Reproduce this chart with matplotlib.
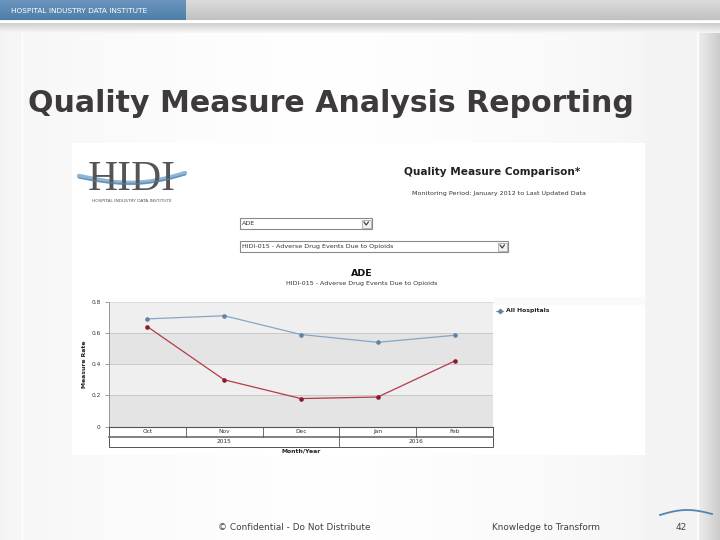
import numpy as np
import matplotlib
matplotlib.use('Agg')
import matplotlib.pyplot as plt
from matplotlib.patches import Rectangle
import matplotlib.transforms as mtransforms

# chart data
months = ['Oct', 'Nov', 'Dec', 'Jan', 'Feb']
years = ['2015', '2016']
months_per_year = [3, 2]
all_hospitals = [0.69, 0.71, 0.59, 0.54, 0.585]
facility = [0.64, 0.30, 0.18, 0.19, 0.42]
y_ticks = [0, 0.2, 0.4, 0.6, 0.8]
y_tick_labels = ['0', '0.2', '0.4', '0.6', '0.8']

W, H = 720, 540
fig = plt.figure(figsize=(7.2, 5.4), dpi=100)


def hgrad(vals):
    # horizontal gray ramp as a 2-row image
    return np.dstack([vals, vals, vals]).repeat(2, axis=0)


def vgrad(r, g, b):
    # vertical ramp as a 2-column image
    return np.dstack([r, g, b]).reshape(-1, 1, 3).repeat(2, axis=1)


# slide background, drawn in pixel coords
bg = fig.add_axes([0, 0, 1, 1])
bg.set_xlim(0, W)
bg.set_ylim(H, 0)
bg.axis('off')

xs = np.linspace(0, 1, W)
shade = 0.955 + 0.045 * np.clip(1 - np.abs(xs - 0.45) / 0.45, 0, 1) ** 0.5
bg.imshow(hgrad(shade[None, :]), extent=[0, W, H, 0], aspect='auto', zorder=0)

# right strip
strip = np.linspace(0.93, 0.80, 22)
bg.imshow(hgrad(strip[None, :]), extent=[698, 720, H, 22], aspect='auto', zorder=1)
bg.plot([698, 698], [22, H], color='white', lw=1.2, zorder=2)
bg.plot([22, 22], [22, H], color='white', lw=1.0, zorder=2)

# top header bar
top = np.linspace(0.86, 0.76, 20)
bg.imshow(vgrad(top, top, top), extent=[0, W, 20, 0], aspect='auto', zorder=2)
bg.imshow(vgrad(np.linspace(0.42, 0.30, 20), np.linspace(0.58, 0.50, 20), np.linspace(0.74, 0.66, 20)),
          extent=[0, 186, 20, 0], aspect='auto', zorder=3)
bg.text(11, 11, 'HOSPITAL INDUSTRY DATA INSTITUTE', color='white', fontsize=5.3,
        va='center', ha='left', zorder=4)
bg.plot([0, W], [21.5, 21.5], color='white', lw=1.5, zorder=3)
sh = np.linspace(0.80, 0.965, 10)
bg.imshow(vgrad(sh, sh, sh), extent=[0, W, 33, 23], aspect='auto', zorder=2, alpha=0.9)

# slide title
bg.text(28, 104, 'Quality Measure Analysis Reporting', fontsize=21.6, fontweight='bold',
        color='#3e3a3b', va='center', ha='left', zorder=4)

# screenshot panel
bg.add_patch(Rectangle((72, 143), 573, 312, facecolor='white', edgecolor='none', zorder=3))

# HIDI logo
t = np.linspace(0, 1, 60)
bg.plot(79 + 106 * t, 176 + 10 * np.sin(np.pi * t * 0.9) - 6 * t, color='#6b9cc4',
        lw=3.2, alpha=0.75, zorder=4, solid_capstyle='round')
bg.text(132, 190, 'HIDI', fontsize=30, family='Liberation Serif', color='#555555',
        ha='center', va='baseline', zorder=5)
bg.plot(79 + 106 * t, 178 + 9 * np.sin(np.pi * t * 0.9) - 6 * t, color='#4f84b0',
        lw=1.1, alpha=0.7, zorder=6)
bg.text(132, 201, 'HOSPITAL INDUSTRY DATA INSTITUTE', fontsize=3.2, color='#555555',
        ha='center', va='center', zorder=5)

# header of the report
bg.text(492, 172, 'Quality Measure Comparison*', fontsize=7.6, fontweight='bold',
        color='#222222', ha='center', va='center', zorder=5)
bg.text(499, 194, 'Monitoring Period: January 2012 to Last Updated Data', fontsize=4.6,
        color='#333333', ha='center', va='center', zorder=5)

# dropdowns
for (x0, x1, y0, label) in [(240, 372, 218, 'ADE'),
                            (240, 508, 241, 'HIDI-015 - Adverse Drug Events Due to Opioids')]:
    bg.add_patch(Rectangle((x0, y0), x1 - x0, 11, facecolor='white', edgecolor='#8a8a8a',
                           lw=0.8, zorder=5))
    bg.add_patch(Rectangle((x1 - 10, y0 + 1.5), 8.5, 8, facecolor='#f2f2f2', edgecolor='#9a9a9a',
                           lw=0.5, zorder=6))
    bg.plot([x1 - 8, x1 - 5.8, x1 - 3.6], [y0 + 4, y0 + 7, y0 + 4], color='#333333', lw=0.8, zorder=7)
    bg.text(x0 + 2, y0 + 5.8, label, fontsize=4.6, color='#333333', ha='left', va='center', zorder=6)

# chart titles
bg.text(362, 273, 'ADE', fontsize=6.8, fontweight='bold', color='#111111',
        ha='center', va='center', zorder=5)
bg.text(362, 284, 'HIDI-015 - Adverse Drug Events Due to Opioids', fontsize=4.6,
        color='#333333', ha='center', va='center', zorder=5)
bg.text(85, 364, 'Measure Rate', fontsize=4.4, fontweight='bold', rotation=90,
        color='#222222', ha='center', va='center', zorder=5)
bg.text(301, 451, 'Month/Year', fontsize=4.4, fontweight='bold', color='#222222',
        ha='center', va='center', zorder=5)

# legend
bg.add_patch(Rectangle((494, 297), 151, 8, facecolor='#fafafa', edgecolor='none', zorder=4))
bg.plot([496, 503], [310.5, 310.5], color='#7f9fbf', lw=0.8, zorder=5)
bg.plot([499.5], [310.5], marker='D', ms=2.2, color='#5f84a8', zorder=6)
bg.text(506, 310.5, 'All Hospitals', fontsize=4.4, fontweight='bold', color='#222222',
        ha='left', va='center', zorder=5)

# footer
bg.text(294, 527, '\u00a9 Confidential - Do Not Distribute', fontsize=6.4, color='#404040',
        ha='center', va='center', zorder=5)
bg.text(546, 527, 'Knowledge to Transform', fontsize=6.4, color='#404040',
        ha='center', va='center', zorder=5)
bg.text(681, 527, '42', fontsize=6.4, color='#404040', ha='center', va='center', zorder=5)
t2 = np.linspace(0, 1, 40)
bg.plot(660 + 52 * t2, 515 - 4 * np.sin(np.pi * t2) + 2 * t2 ** 2 - 3 * t2, color='#4f86b4',
        lw=1.3, zorder=5)

# the line chart
left, right, ytop, ybot = 109, 493, 301.7, 426.7
ax = fig.add_axes([left / W, 1 - ybot / H, (right - left) / W, (ybot - ytop) / H])
ax.set_facecolor('#efefef')
ax.set_xlim(-0.5, len(months) - 0.5)
ax.set_ylim(0, 0.8)
ax.axhspan(0, 0.2, color='#e4e4e4', zorder=0, lw=0)
ax.axhspan(0.4, 0.6, color='#e4e4e4', zorder=0, lw=0)
for yv in y_ticks[1:4]:
    ax.axhline(yv, color='#c4c4c4', lw=0.6, zorder=1)

x = np.arange(len(months))
ax.plot(x, all_hospitals, color='#86a6c6', lw=0.9, marker='o', ms=2.3,
        mfc='#5f84a8', mec='#5f84a8', zorder=3)
ax.plot(x, facility, color='#b53a48', lw=0.9, marker='o', ms=2.3,
        mfc='#8b1a2a', mec='#8b1a2a', zorder=3)

ax.set_yticks(y_ticks)
ax.set_yticklabels(y_tick_labels, fontsize=4.2, color='#333333')
ax.tick_params(axis='y', length=3, width=0.5, color='#777777', pad=3)
ax.set_xticks([])
for s in ['top', 'right']:
    ax.spines[s].set_visible(False)
ax.spines['left'].set_color('#8a8a8a')
ax.spines['left'].set_linewidth(0.6)
ax.spines['bottom'].set_color('#555555')
ax.spines['bottom'].set_linewidth(0.8)
ax.plot([-0.5, 4.5], [0.8, 0.8], color='#d8d8d8', lw=0.6, clip_on=False)

# category table under the axis
trans = mtransforms.blended_transform_factory(ax.transData, ax.transAxes)
row = 10.0 / (ybot - ytop)
ax.add_patch(Rectangle((-0.5, -2 * row), 5, 2 * row, transform=trans, facecolor='white',
                       edgecolor='#555555', lw=0.7, clip_on=False, zorder=2))
ax.plot([-0.5, 4.5], [-row, -row], transform=trans, color='#777777', lw=1.3, clip_on=False)
for i, m in enumerate(months):
    ax.text(i, -row / 2, m, transform=trans, fontsize=4.2, color='#333333',
            ha='center', va='center')
    if i > 0:
        ax.plot([i - 0.5, i - 0.5], [0, -row], transform=trans, color='#555555', lw=0.6,
                clip_on=False)
start = -0.5
for yr, n in zip(years, months_per_year):
    ax.text(start + n / 2, -1.5 * row, yr, transform=trans, fontsize=4.2, color='#333333',
            ha='center', va='center')
    start += n
    if start < 4.5:
        ax.plot([start, start], [-row, -2 * row], transform=trans, color='#555555', lw=0.6,
                clip_on=False)

fig.savefig('out.png', dpi=100)
